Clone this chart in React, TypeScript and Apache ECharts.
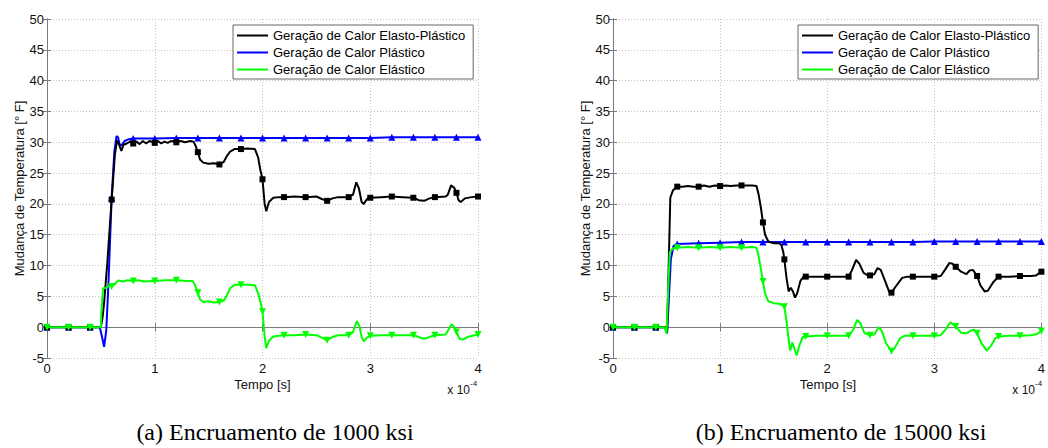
import React, { useEffect, useRef } from "react";
import * as echarts from "echarts";

// x values in units of 1e-4 s, y in °F
const SERIES_NAMES = [
  "Geração de Calor Elasto-Plástico",
  "Geração de Calor Plástico",
  "Geração de Calor Elástico",
];

const X_TICKS = [0, 1, 2, 3, 4];
const Y_TICKS = [-5, 0, 5, 10, 15, 20, 25, 30, 35, 40, 45, 50];

// (a) Encruamento de 1000 ksi
const A_ELASTO_PLASTIC: [number, number][] = [
  [0, 0], [0.2, 0], [0.4, 0], [0.5, 0], [0.515, 1.5], [0.53, 4], [0.56, 10.5], [0.6, 20.7],
  [0.63, 28], [0.65, 30.3], [0.665, 29.8], [0.69, 28.6], [0.71, 29.6], [0.74, 29.8], [0.77, 30.1],
  [0.8, 29.8], [0.83, 30.1], [0.86, 29.7], [0.89, 30.2], [0.92, 29.8], [0.95, 30.2], [1.0, 29.9],
  [1.03, 30.2], [1.06, 29.8], [1.09, 30.1], [1.12, 29.9], [1.15, 30.2], [1.2, 30.0], [1.24, 30.2],
  [1.28, 30.0], [1.33, 30.2], [1.36, 30.1], [1.38, 29.4], [1.4, 28.4], [1.42, 27.2], [1.45, 26.7],
  [1.5, 26.5], [1.55, 26.6], [1.6, 26.4], [1.64, 26.8], [1.67, 27.8], [1.7, 28.5], [1.74, 28.9],
  [1.8, 28.9], [1.86, 29.0], [1.93, 28.9], [1.96, 27.5], [1.98, 25.5], [2.0, 24.0], [2.02, 20.0],
  [2.035, 18.8], [2.06, 20.3], [2.1, 21.0], [2.15, 21.1], [2.2, 21.1], [2.3, 21.2], [2.4, 21.1],
  [2.5, 21.2], [2.55, 20.8], [2.6, 20.5], [2.65, 20.9], [2.7, 21.1], [2.8, 21.1], [2.84, 21.5],
  [2.87, 23.5], [2.895, 22.5], [2.92, 20.3], [2.94, 20.0], [2.97, 20.8], [3.0, 21.0], [3.1, 21.1],
  [3.2, 21.2], [3.3, 21.1], [3.4, 21.0], [3.45, 20.6], [3.5, 20.5], [3.55, 20.9], [3.6, 21.1],
  [3.7, 21.2], [3.72, 21.5], [3.75, 23.0], [3.78, 22.6], [3.8, 21.8], [3.82, 20.6], [3.84, 20.3],
  [3.88, 20.9], [3.94, 21.1], [4.0, 21.2],
];
const A_PLASTIC: [number, number][] = [
  [0, 0], [0.2, 0], [0.4, 0], [0.49, 0], [0.51, -1.5], [0.53, -3.2], [0.55, -0.5], [0.57, 7],
  [0.6, 21], [0.625, 28.5], [0.645, 31.0], [0.66, 30.8], [0.675, 29.6], [0.69, 29.5], [0.72, 30.2],
  [0.76, 30.5], [0.8, 30.6], [1.0, 30.6], [1.2, 30.7], [1.4, 30.7], [1.6, 30.7], [1.8, 30.7],
  [2.0, 30.7], [2.2, 30.7], [2.4, 30.7], [2.6, 30.7], [2.8, 30.7], [3.0, 30.7], [3.2, 30.8],
  [3.4, 30.8], [3.6, 30.8], [3.8, 30.8], [4.0, 30.8],
];
const A_ELASTIC: [number, number][] = [
  [0, 0], [0.2, 0], [0.4, 0], [0.5, 0], [0.505, 2.5], [0.52, 6.3], [0.55, 6.4], [0.58, 6.8],
  [0.6, 6.6], [0.63, 7.0], [0.66, 7.6], [0.7, 7.4], [0.75, 7.6], [0.8, 7.5], [0.85, 7.6],
  [0.9, 7.4], [1.0, 7.5], [1.1, 7.6], [1.2, 7.6], [1.3, 7.5], [1.35, 7.5], [1.37, 7.0], [1.4, 5.6],
  [1.42, 4.5], [1.45, 4.1], [1.5, 4.2], [1.55, 4.0], [1.6, 4.1], [1.64, 4.3], [1.67, 5.2],
  [1.7, 6.3], [1.74, 6.9], [1.8, 6.9], [1.86, 6.9], [1.93, 6.8], [1.96, 5.5], [1.985, 3.8],
  [2.0, 2.5], [2.02, -1.5], [2.035, -3.4], [2.06, -2.2], [2.1, -1.5], [2.15, -1.4], [2.2, -1.3],
  [2.3, -1.3], [2.4, -1.2], [2.5, -1.3], [2.55, -1.7], [2.6, -2.1], [2.65, -1.6], [2.7, -1.3],
  [2.8, -1.3], [2.84, -0.8], [2.875, 1.0], [2.9, 0.2], [2.92, -1.6], [2.94, -2.3], [2.97, -1.7],
  [3.0, -1.4], [3.1, -1.3], [3.2, -1.3], [3.3, -1.3], [3.4, -1.3], [3.45, -1.6], [3.5, -1.9],
  [3.55, -1.6], [3.6, -1.3], [3.7, -1.2], [3.73, -0.3], [3.755, 0.5], [3.78, 0.0], [3.8, -0.8],
  [3.83, -1.9], [3.86, -2.0], [3.9, -1.6], [4.0, -1.2],
];

// (b) Encruamento de 15000 ksi
const B_ELASTO_PLASTIC: [number, number][] = [
  [0, 0], [0.2, 0], [0.4, 0], [0.49, 0], [0.505, -0.8], [0.52, 10], [0.535, 21.0], [0.56, 22.2],
  [0.6, 22.8], [0.65, 22.8], [0.7, 22.9], [0.75, 22.8], [0.8, 22.8], [0.85, 23.0], [0.9, 22.8],
  [0.95, 23.0], [1.0, 22.9], [1.05, 23.0], [1.1, 22.9], [1.15, 23.0], [1.2, 23.0], [1.25, 23.0],
  [1.3, 23.0], [1.34, 22.9], [1.36, 21.5], [1.38, 19.5], [1.4, 17.0], [1.42, 15.0], [1.45, 13.9],
  [1.5, 13.6], [1.55, 13.6], [1.57, 13.4], [1.59, 12.2], [1.6, 11.0], [1.62, 8.0], [1.64, 5.8],
  [1.66, 6.4], [1.68, 5.8], [1.7, 4.8], [1.72, 5.5], [1.75, 7.5], [1.78, 8.2], [1.8, 8.2],
  [1.9, 8.2], [2.0, 8.2], [2.1, 8.2], [2.2, 8.2], [2.23, 9.2], [2.27, 10.9], [2.3, 10.3],
  [2.34, 8.8], [2.38, 8.4], [2.4, 8.4], [2.44, 8.6], [2.47, 9.6], [2.5, 9.3], [2.54, 7.5],
  [2.58, 5.7], [2.6, 5.6], [2.64, 6.6], [2.7, 8.0], [2.75, 8.2], [2.8, 8.2], [2.9, 8.2], [3.0, 8.2],
  [3.06, 8.3], [3.1, 9.3], [3.14, 10.4], [3.17, 10.3], [3.2, 9.8], [3.25, 9.0], [3.3, 8.6],
  [3.33, 9.2], [3.36, 9.3], [3.4, 8.3], [3.43, 6.8], [3.47, 5.8], [3.5, 5.9], [3.55, 7.3],
  [3.6, 8.2], [3.7, 8.2], [3.8, 8.3], [3.9, 8.3], [3.95, 8.4], [4.0, 9.0],
];
const B_PLASTIC: [number, number][] = [
  [0, 0], [0.2, 0], [0.4, 0], [0.49, 0], [0.505, -1.0], [0.52, 4], [0.54, 11], [0.565, 13.2],
  [0.6, 13.5], [0.8, 13.6], [1.0, 13.7], [1.2, 13.8], [1.4, 13.8], [1.6, 13.8], [1.8, 13.8],
  [2.0, 13.8], [2.2, 13.8], [2.4, 13.8], [2.6, 13.8], [2.8, 13.8], [3.0, 13.9], [3.2, 13.9],
  [3.4, 13.9], [3.6, 13.9], [3.8, 13.9], [4.0, 13.9],
];
const B_ELASTIC: [number, number][] = [
  [0, 0], [0.2, 0], [0.4, 0], [0.48, 0], [0.5, -1.0], [0.515, 6], [0.53, 12.2], [0.56, 12.8],
  [0.6, 12.9], [0.7, 13.0], [0.8, 12.9], [0.9, 13.0], [1.0, 12.9], [1.1, 13.0], [1.2, 12.9],
  [1.3, 13.0], [1.34, 12.9], [1.36, 11.5], [1.38, 9.5], [1.4, 7.4], [1.42, 5.5], [1.45, 4.2],
  [1.5, 3.9], [1.55, 3.8], [1.58, 3.6], [1.6, 3.3], [1.62, 1.0], [1.64, -2.0], [1.655, -3.8],
  [1.675, -2.5], [1.695, -3.5], [1.715, -4.6], [1.74, -3.0], [1.77, -1.6], [1.8, -1.5],
  [1.9, -1.4], [2.0, -1.4], [2.1, -1.4], [2.2, -1.4], [2.24, -0.5], [2.28, 1.2], [2.31, 0.6],
  [2.35, -1.0], [2.4, -1.3], [2.44, -1.2], [2.48, 0.0], [2.51, -0.6], [2.55, -2.6], [2.6, -3.9],
  [2.63, -3.4], [2.68, -1.8], [2.72, -1.4], [2.8, -1.4], [2.9, -1.4], [3.0, -1.4], [3.06, -1.3],
  [3.1, -0.5], [3.15, 0.8], [3.2, 0.1], [3.25, -0.9], [3.3, -1.0], [3.34, -0.6], [3.37, -0.4],
  [3.4, -1.0], [3.44, -2.6], [3.49, -3.8], [3.53, -3.0], [3.57, -1.8], [3.6, -1.5], [3.7, -1.4],
  [3.8, -1.4], [3.9, -1.3], [3.96, -1.1], [4.0, -0.6],
];

const CAPTIONS = ["(a) Encruamento de 1000 ksi", "(b) Encruamento de 15000 ksi"];

const FONT = "Liberation Sans";
const GRIDS = [
  { left: 47, top: 19, width: 431, height: 339 },
  { left: 613, top: 19, width: 430, height: 339 },
];
const AXIS_COLOR = "#7a7a7a";

function isMarker(x: number) {
  return Math.abs(x * 5 - Math.round(x * 5)) < 1e-9;
}

function makeSeries(
  name: string,
  color: string,
  data: [number, number][],
  symbol: string,
  size: number,
  rotate: number,
  gi: number,
  z: number
) {
  return {
    type: "line",
    name,
    xAxisIndex: gi * 2,
    yAxisIndex: gi * 2,
    data: data.map(([x, y]) =>
      isMarker(x) ? { value: [x, y] } : { value: [x, y], symbol: "none" }
    ),
    symbol,
    symbolSize: size,
    symbolRotate: rotate,
    showSymbol: true,
    showAllSymbol: true,
    lineStyle: { color, width: 2 },
    itemStyle: { color },
    z,
    silent: true,
  };
}

export default function App() {
  const ref = useRef<HTMLDivElement>(null);
  useEffect(() => {
    if (!ref.current) return;
    const chart = echarts.init(ref.current, undefined, { renderer: "svg" });
    const xAxes: any[] = [];
    const yAxes: any[] = [];
    GRIDS.forEach((_, gi) => {
      const common = {
        gridIndex: gi,
        type: "value",
        axisLine: { show: true, lineStyle: { color: AXIS_COLOR, width: 1 } },
        axisTick: { show: true, inside: true, length: 4, lineStyle: { color: AXIS_COLOR } },
      };
      xAxes.push({
        ...common,
        position: "bottom",
        min: X_TICKS[0],
        max: X_TICKS[X_TICKS.length - 1],
        interval: 1,
        axisLabel: { show: true, margin: 4, fontSize: 13, fontFamily: FONT, color: "#111" },
        splitLine: { show: true, lineStyle: { color: "#c4c4c4", type: [1, 2], width: 1 } },
      });
      xAxes.push({
        ...common,
        position: "top",
        min: X_TICKS[0],
        max: X_TICKS[X_TICKS.length - 1],
        interval: 1,
        axisLabel: { show: false },
        splitLine: { show: false },
      });
      yAxes.push({
        ...common,
        position: "left",
        min: Y_TICKS[0],
        max: Y_TICKS[Y_TICKS.length - 1],
        interval: 5,
        axisLabel: { show: true, margin: 3, fontSize: 13, fontFamily: FONT, color: "#111" },
        splitLine: { show: true, lineStyle: { color: "#c4c4c4", type: [1, 2], width: 1 } },
      });
      yAxes.push({
        ...common,
        position: "right",
        min: Y_TICKS[0],
        max: Y_TICKS[Y_TICKS.length - 1],
        interval: 5,
        axisLabel: { show: false },
        splitLine: { show: false },
      });
    });

    const sets = [
      [A_ELASTO_PLASTIC, A_PLASTIC, A_ELASTIC],
      [B_ELASTO_PLASTIC, B_PLASTIC, B_ELASTIC],
    ];
    const series: any[] = [];
    sets.forEach((s, gi) => {
      series.push(makeSeries(SERIES_NAMES[1], "#0000ff", s[1], "triangle", 7, 0, gi, 2));
      series.push(makeSeries(SERIES_NAMES[0], "#000000", s[0], "rect", 6, 0, gi, 3));
      series.push(makeSeries(SERIES_NAMES[2], "#00ff00", s[2], "triangle", 7, 180, gi, 4));
    });

    const graphic: any[] = [];
    GRIDS.forEach((g, gi) => {
      const cx = g.left + g.width / 2;
      const cy = g.top + g.height / 2;
      graphic.push({
        type: "text",
        x: g.left - 28,
        y: cy,
        rotation: Math.PI / 2,
        style: {
          text: "Mudança de Temperatura [° F]",
          fontSize: 13,
          fontFamily: FONT,
          fill: "#111",
          align: "center",
          verticalAlign: "middle",
          textAlign: "center",
          textVerticalAlign: "middle",
        },
      });
      graphic.push({
        type: "text",
        x: cx,
        y: 384,
        style: {
          text: "Tempo [s]",
          fontSize: 13,
          fontFamily: FONT,
          fill: "#111",
          align: "center",
          verticalAlign: "middle",
          textAlign: "center",
          textVerticalAlign: "middle",
        },
      });
      graphic.push({
        type: "text",
        x: g.left + g.width - 8,
        y: 390,
        style: {
          text: "x 10",
          fontSize: 12,
          fontFamily: FONT,
          fill: "#111",
          align: "right",
          verticalAlign: "middle",
          textAlign: "right",
          textVerticalAlign: "middle",
        },
      });
      graphic.push({
        type: "text",
        x: g.left + g.width - 8,
        y: 383,
        style: {
          text: "-4",
          fontSize: 8,
          fontFamily: FONT,
          fill: "#111",
          align: "left",
          verticalAlign: "middle",
          textAlign: "left",
          textVerticalAlign: "middle",
        },
      });
      graphic.push({
        type: "text",
        x: gi === 0 ? 275 : 841,
        y: 432,
        style: {
          text: CAPTIONS[gi],
          fontSize: 24,
          fontFamily: "Liberation Serif",
          fill: "#000",
          align: "center",
          verticalAlign: "middle",
          textAlign: "center",
          textVerticalAlign: "middle",
        },
      });
    });

    const legends = GRIDS.map((g) => ({
      orient: "vertical",
      left: g.left + g.width - 245,
      top: 25,
      itemWidth: 31,
      itemHeight: 2,
      itemGap: 2,
      icon: "rect",
      selectedMode: false,
      data: SERIES_NAMES,
      padding: [3, 8, 2, 4],
      borderColor: "#666",
      borderWidth: 1,
      borderRadius: 0,
      backgroundColor: "#fff",
      textStyle: { fontSize: 13, fontFamily: FONT, color: "#000", lineHeight: 15 },
    }));

    chart.setOption({
      animation: false,
      backgroundColor: "#fff",
      grid: GRIDS.map((g) => ({ ...g, containLabel: false })),
      xAxis: xAxes,
      yAxis: yAxes,
      legend: legends,
      series,
      graphic,
    });
    return () => chart.dispose();
  }, []);
  return (
    <div
      ref={ref}
      style={{ position: "absolute", left: 0, top: 0, width: 1048, height: 448, background: "#fff" }}
    />
  );
}
